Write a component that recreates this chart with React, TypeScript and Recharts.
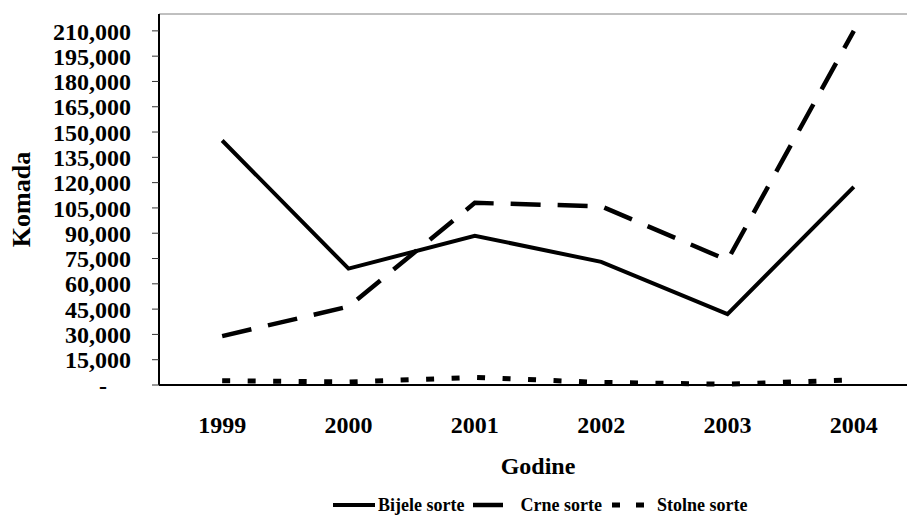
import React from 'react';
import { LineChart, Line, XAxis, YAxis, ReferenceLine } from 'recharts';

const categories = ['1999', '2000', '2001', '2002', '2003', '2004'];
const bijeleSorte = [145000, 69000, 88500, 73000, 42000, 117500];
const crneSorte = [29000, 46500, 108000, 106000, 74000, 210000];
const stolneSorte = [2500, 1800, 4500, 1500, 500, 3000];
const yTicks = [0, 15000, 30000, 45000, 60000, 75000, 90000, 105000, 120000, 135000, 150000, 165000, 180000, 195000, 210000];
const edgeTicks = [0, 1, 2, 3, 4, 5, 6];

const data = categories.map((year, i) => ({
  year,
  bijele: bijeleSorte[i],
  crne: crneSorte[i],
  stolne: stolneSorte[i],
}));

const FONT = '"Liberation Serif", "Times New Roman", serif';

const YTick = (props: any) => {
  const { x, y, payload } = props;
  const v = payload.value as number;
  const label = v === 0 ? '-' : v.toLocaleString('en-US');
  return (
    <text
      x={v === 0 ? x - 24 : x}
      y={y}
      dy="0.36em"
      textAnchor="end"
      fontFamily={FONT}
      fontWeight="bold"
      fontSize={24}
      fill="#000"
    >
      {label}
    </text>
  );
};

const KomadaLabel = (props: any) => {
  const vb = props.viewBox || { x: 0, y: 14, width: 159, height: 371 };
  const cx = 21;
  const cy = vb.y + vb.height / 2;
  return (
    <text
      x={cx}
      y={cy}
      transform={`rotate(-90, ${cx}, ${cy})`}
      textAnchor="middle"
      dominantBaseline="central"
      fontFamily={FONT}
      fontWeight="bold"
      fontSize={26}
      fill="#000"
    >
      Komada
    </text>
  );
};

const legendItems = [
  { name: 'Bijele sorte', dash: undefined as string | undefined, w: 4, len: 42, gapAfter: 9 },
  { name: 'Crne sorte', dash: '30 17', w: 4.5, len: 44, gapAfter: 10 },
  { name: 'Stolne sorte', dash: '8 16', w: 5, len: 42, gapAfter: 0 },
];

export default function App() {
  return (
    <div
      style={{
        position: 'absolute',
        left: 0,
        top: 0,
        width: 907,
        height: 516,
        overflow: 'hidden',
        background: '#fff',
        fontFamily: FONT,
      }}
    >
      <LineChart width={920} height={516} data={data} margin={{ top: 14, right: 3, left: 0, bottom: 0 }}>
        <XAxis
          xAxisId="edges"
          type="number"
          domain={[0, 6]}
          ticks={edgeTicks}
          tick={false}
          tickLine={{ stroke: '#333', strokeWidth: 1 }}
          tickSize={8}
          axisLine={false}
          height={0}
        />
        <XAxis
          xAxisId="cat"
          dataKey="year"
          scale="band"
          height={131}
          tickLine={false}
          tickSize={0}
          tickMargin={31}
          axisLine={{ stroke: '#000', strokeWidth: 2 }}
          tick={{ fontSize: 24, fontWeight: 'bold', fontFamily: FONT, fill: '#000' }}
          interval={0}
          label={{
            value: 'Godine',
            position: 'insideTop',
            offset: 72,
            fontSize: 24,
            fontWeight: 'bold',
            fontFamily: FONT,
            fill: '#000',
          }}
        />
        <YAxis
          width={159}
          domain={[0, 220000]}
          ticks={yTicks}
          interval={0}
          tickSize={7}
          tickMargin={21}
          tickLine={{ stroke: '#333', strokeWidth: 1 }}
          axisLine={{ stroke: '#000', strokeWidth: 2 }}
          tick={<YTick />}
          label={{ content: <KomadaLabel /> }}
        />
        <ReferenceLine xAxisId="cat" y={220000} stroke="#808080" strokeWidth={1} />
        <Line
          xAxisId="cat"
          type="linear"
          dataKey="bijele"
          name="Bijele sorte"
          stroke="#000"
          strokeWidth={4}
          dot={false}
          activeDot={false}
          isAnimationActive={false}
        />
        <Line
          xAxisId="cat"
          type="linear"
          dataKey="crne"
          name="Crne sorte"
          stroke="#000"
          strokeWidth={4.5}
          strokeDasharray="30 17"
          dot={false}
          activeDot={false}
          isAnimationActive={false}
        />
        <Line
          xAxisId="cat"
          type="linear"
          dataKey="stolne"
          name="Stolne sorte"
          stroke="#000"
          strokeWidth={5}
          strokeDasharray="8 17.5"
          dot={false}
          activeDot={false}
          isAnimationActive={false}
        />
      </LineChart>
      <div
        style={{
          position: 'absolute',
          left: 333,
          top: 493,
          height: 24,
          display: 'flex',
          alignItems: 'center',
          fontFamily: FONT,
          fontWeight: 'bold',
          fontSize: 18,
          color: '#000',
          whiteSpace: 'nowrap',
        }}
      >
        {legendItems.map((it) => (
          <div key={it.name} style={{ display: 'flex', alignItems: 'center', marginRight: it.gapAfter }}>
            <svg width={it.len} height={10} style={{ display: 'block' }}>
              <line x1={0} y1={5} x2={it.len} y2={5} stroke="#000" strokeWidth={it.w} strokeDasharray={it.dash} />
            </svg>
            <span style={{ marginLeft: 3, lineHeight: '24px' }}>{it.name}</span>
          </div>
        ))}
      </div>
    </div>
  );
}
